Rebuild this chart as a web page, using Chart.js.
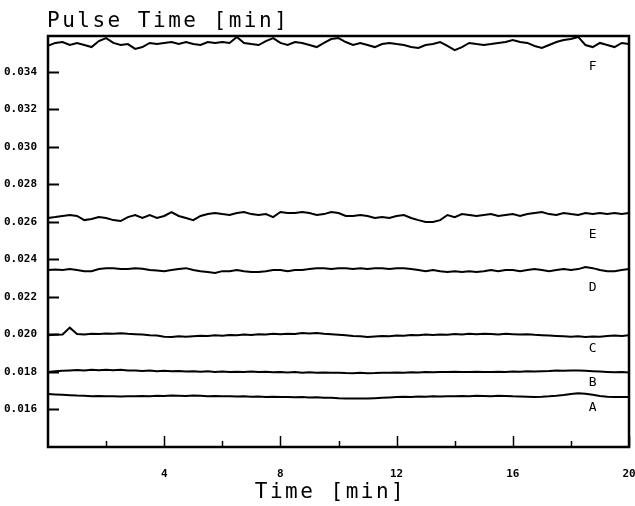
<!DOCTYPE html>
<html><head><meta charset="utf-8">
<script src="https://cdn.jsdelivr.net/npm/chart.js@4.4.1/dist/chart.umd.min.js"></script>
<style>html,body{margin:0;padding:0;background:#fff}#c{display:block}</style>
</head><body>
<canvas id="c" width="635" height="506"></canvas>
<script>
// ---- data ----
const seriesNames = ["F","E","D","C","B","A"];
const timeStart = 0, timeEnd = 20; // minutes
const yTickValues = [0.016,0.018,0.020,0.022,0.024,0.026,0.028,0.030,0.032,0.034];
const xTickValues = [2,4,6,8,10,12,14,16,18,20];
const xLabelValues = [4,8,12,16,20];

const seriesF = [0.03537,0.03553,0.03558,0.03542,0.03553,0.03542,0.03531,0.03563,0.03579,0.03553,0.03542,0.03547,0.03521,0.03531,0.03553,0.03547,0.03553,0.03558,0.03547,0.03558,0.03547,0.03542,0.03558,0.03553,0.03558,0.03553,0.03585,0.03553,0.03547,0.03542,0.03563,0.03579,0.03553,0.03542,0.03558,0.03553,0.03542,0.03531,0.03553,0.03574,0.03579,0.03558,0.03542,0.03553,0.03542,0.03531,0.03547,0.03553,0.03547,0.03542,0.03531,0.03526,0.03542,0.03547,0.03558,0.03537,0.03515,0.03531,0.03553,0.03547,0.03542,0.03547,0.03553,0.03558,0.03569,0.03558,0.03553,0.03537,0.03526,0.03542,0.03558,0.03569,0.03574,0.03585,0.03542,0.03531,0.03553,0.03542,0.03531,0.03553,0.03547];
const seriesE = [0.02620,0.02625,0.02631,0.02636,0.02631,0.02609,0.02615,0.02625,0.02620,0.02609,0.02604,0.02625,0.02636,0.02620,0.02636,0.02620,0.02631,0.02652,0.02631,0.02620,0.02609,0.02631,0.02641,0.02647,0.02641,0.02636,0.02647,0.02652,0.02641,0.02636,0.02641,0.02625,0.02652,0.02647,0.02647,0.02652,0.02647,0.02636,0.02641,0.02652,0.02647,0.02631,0.02631,0.02636,0.02631,0.02620,0.02625,0.02620,0.02631,0.02636,0.02620,0.02609,0.02599,0.02599,0.02609,0.02636,0.02625,0.02641,0.02636,0.02631,0.02636,0.02641,0.02631,0.02636,0.02641,0.02631,0.02641,0.02647,0.02652,0.02641,0.02636,0.02647,0.02641,0.02636,0.02647,0.02641,0.02647,0.02641,0.02647,0.02641,0.02647];
const seriesD = [0.02343,0.02346,0.02343,0.02348,0.02343,0.02337,0.02337,0.02348,0.02353,0.02353,0.02348,0.02348,0.02353,0.02350,0.02343,0.02340,0.02337,0.02343,0.02348,0.02353,0.02343,0.02337,0.02332,0.02327,0.02337,0.02337,0.02343,0.02337,0.02332,0.02332,0.02337,0.02343,0.02343,0.02337,0.02343,0.02343,0.02348,0.02353,0.02353,0.02348,0.02353,0.02353,0.02348,0.02353,0.02348,0.02353,0.02353,0.02348,0.02353,0.02353,0.02348,0.02343,0.02337,0.02343,0.02337,0.02332,0.02337,0.02332,0.02337,0.02332,0.02337,0.02343,0.02337,0.02343,0.02343,0.02337,0.02343,0.02348,0.02343,0.02337,0.02343,0.02348,0.02343,0.02348,0.02359,0.02353,0.02343,0.02337,0.02337,0.02343,0.02348];
const seriesC = [0.01996,0.01998,0.02000,0.02036,0.02002,0.02000,0.02004,0.02002,0.02005,0.02003,0.02006,0.02003,0.02001,0.01999,0.01996,0.01994,0.01988,0.01986,0.01990,0.01987,0.01990,0.01993,0.01991,0.01995,0.01993,0.01997,0.01995,0.01999,0.01997,0.02001,0.01999,0.02003,0.02001,0.02004,0.02002,0.02007,0.02005,0.02008,0.02004,0.02001,0.01998,0.01995,0.01992,0.01990,0.01986,0.01989,0.01992,0.01990,0.01994,0.01993,0.01997,0.01995,0.01999,0.01997,0.02000,0.01998,0.02002,0.02000,0.02003,0.02001,0.02004,0.02002,0.02000,0.02003,0.02001,0.01999,0.02001,0.01998,0.01996,0.01994,0.01992,0.01990,0.01987,0.01990,0.01986,0.01989,0.01987,0.01991,0.01994,0.01992,0.01996];
const seriesB = [0.01800,0.01803,0.01806,0.01808,0.01810,0.01808,0.01811,0.01809,0.01812,0.01809,0.01811,0.01808,0.01807,0.01805,0.01807,0.01804,0.01806,0.01803,0.01805,0.01802,0.01804,0.01801,0.01803,0.01800,0.01802,0.01799,0.01801,0.01800,0.01802,0.01799,0.01801,0.01798,0.01800,0.01797,0.01799,0.01796,0.01798,0.01796,0.01797,0.01795,0.01796,0.01794,0.01793,0.01795,0.01793,0.01794,0.01796,0.01795,0.01797,0.01796,0.01798,0.01797,0.01799,0.01798,0.01800,0.01799,0.01801,0.01800,0.01799,0.01801,0.01800,0.01799,0.01801,0.01800,0.01802,0.01801,0.01803,0.01802,0.01804,0.01805,0.01807,0.01806,0.01808,0.01807,0.01806,0.01804,0.01802,0.01800,0.01798,0.01799,0.01797];
const seriesA = [0.01682,0.01680,0.01678,0.01676,0.01674,0.01673,0.01671,0.01672,0.01670,0.01671,0.01669,0.01671,0.01670,0.01672,0.01671,0.01673,0.01672,0.01674,0.01673,0.01672,0.01674,0.01673,0.01671,0.01672,0.01670,0.01671,0.01669,0.01670,0.01668,0.01669,0.01667,0.01668,0.01666,0.01667,0.01665,0.01666,0.01664,0.01665,0.01663,0.01662,0.01660,0.01659,0.01658,0.01659,0.01658,0.01660,0.01662,0.01664,0.01666,0.01668,0.01667,0.01669,0.01668,0.01670,0.01669,0.01671,0.01670,0.01672,0.01671,0.01673,0.01672,0.01671,0.01673,0.01672,0.01670,0.01669,0.01668,0.01667,0.01668,0.01670,0.01673,0.01677,0.01682,0.01686,0.01684,0.01678,0.01672,0.01668,0.01667,0.01666,0.01666];
const allSeries = [seriesF, seriesE, seriesD, seriesC, seriesB, seriesA];

// ---- build ----
function toPoints(arr){
  const step = (timeEnd - timeStart) / (arr.length - 1);
  return arr.map((v,i)=>({x: timeStart + i*step, y: v}));
}
const labelTime = 18.75;
const labelPx = [20,21,19,12,11,13];

const FONT_T = '"DejaVu Sans Mono", monospace';

const decor = {
  id:'decor',
  afterDatasetsDraw(chart){
    const {ctx, chartArea:a, scales:{x,y}} = chart;
    ctx.save();
    ctx.strokeStyle = '#000';
    ctx.lineWidth = 2;
    yTickValues.forEach(v=>{
      const py = Math.round(y.getPixelForValue(v))+0.5;
      ctx.beginPath(); ctx.moveTo(a.left, py); ctx.lineTo(a.left+11, py); ctx.stroke();
    });
    ctx.lineWidth = 1.5;
    xTickValues.forEach(v=>{
      const px = Math.round(x.getPixelForValue(v))+0.5;
      const len = (v % 4 === 0) ? 11 : 6;
      ctx.beginPath(); ctx.moveTo(px, a.bottom); ctx.lineTo(px, a.bottom-len); ctx.stroke();
    });
    ctx.lineWidth = 2.5;
    ctx.strokeRect(a.left, a.top, a.right-a.left, a.bottom-a.top);
    ctx.fillStyle = '#000';
    ctx.font = '13px ' + FONT_T;
    ctx.textAlign = 'center';
    ctx.textBaseline = 'middle';
    allSeries.forEach((s,i)=>{
      const idx = Math.round((labelTime - timeStart)/(timeEnd-timeStart)*(s.length-1));
      const py = y.getPixelForValue(s[idx]) + labelPx[i];
      ctx.fillText(seriesNames[i], x.getPixelForValue(labelTime), py);
    });
    ctx.font = '21px ' + FONT_T;
    ctx.letterSpacing = '2.5px';
    ctx.textAlign = 'left';
    ctx.textBaseline = 'alphabetic';
    ctx.fillText('Pulse Time [min]', 47, 27);
    const t = 'Time [min]';
    const w = ctx.measureText(t).width;
    ctx.fillText(t, (a.left+a.right)/2 - w/2 - 8, 498);
    ctx.restore();
  }
};

new Chart(document.getElementById('c'), {
  type:'line',
  data:{
    datasets: allSeries.map((s,i)=>({
      label: seriesNames[i],
      data: toPoints(s),
      borderColor:'#000',
      borderWidth:2,
      pointRadius:0,
      tension:0,
      fill:false
    }))
  },
  options:{
    responsive:false,
    animation:false,
    layout:{padding:{top:36,right:6,left:0,bottom:0}},
    plugins:{legend:{display:false}, tooltip:{enabled:false}},
    scales:{
      x:{
        type:'linear', min:timeStart, max:timeEnd,
        grid:{display:false}, border:{display:false},
        afterFit(s){ s.height = 59; s.paddingLeft = 0; s.paddingRight = 0; },
        afterBuildTicks(s){ s.ticks = xLabelValues.map(v=>({value:v})); },
        ticks:{
          padding:13, maxRotation:0, autoSkip:false,
          color:'#000', font:{family:FONT_T, size:11, weight:'bold'},
          callback:(v)=>String(v)
        }
      },
      y:{
        type:'linear', min:0.014, max:0.0359,
        grid:{display:false}, border:{display:false},
        afterFit(s){ s.width = 48; s.paddingTop = 0; s.paddingBottom = 0; },
        afterBuildTicks(s){ s.ticks = yTickValues.map(v=>({value:v})); },
        ticks:{
          padding:3, autoSkip:false,
          color:'#000', font:{family:FONT_T, size:11, weight:'bold'},
          callback:(v)=>v.toFixed(3)
        }
      }
    }
  },
  plugins:[decor]
});
</script>
</body></html>
